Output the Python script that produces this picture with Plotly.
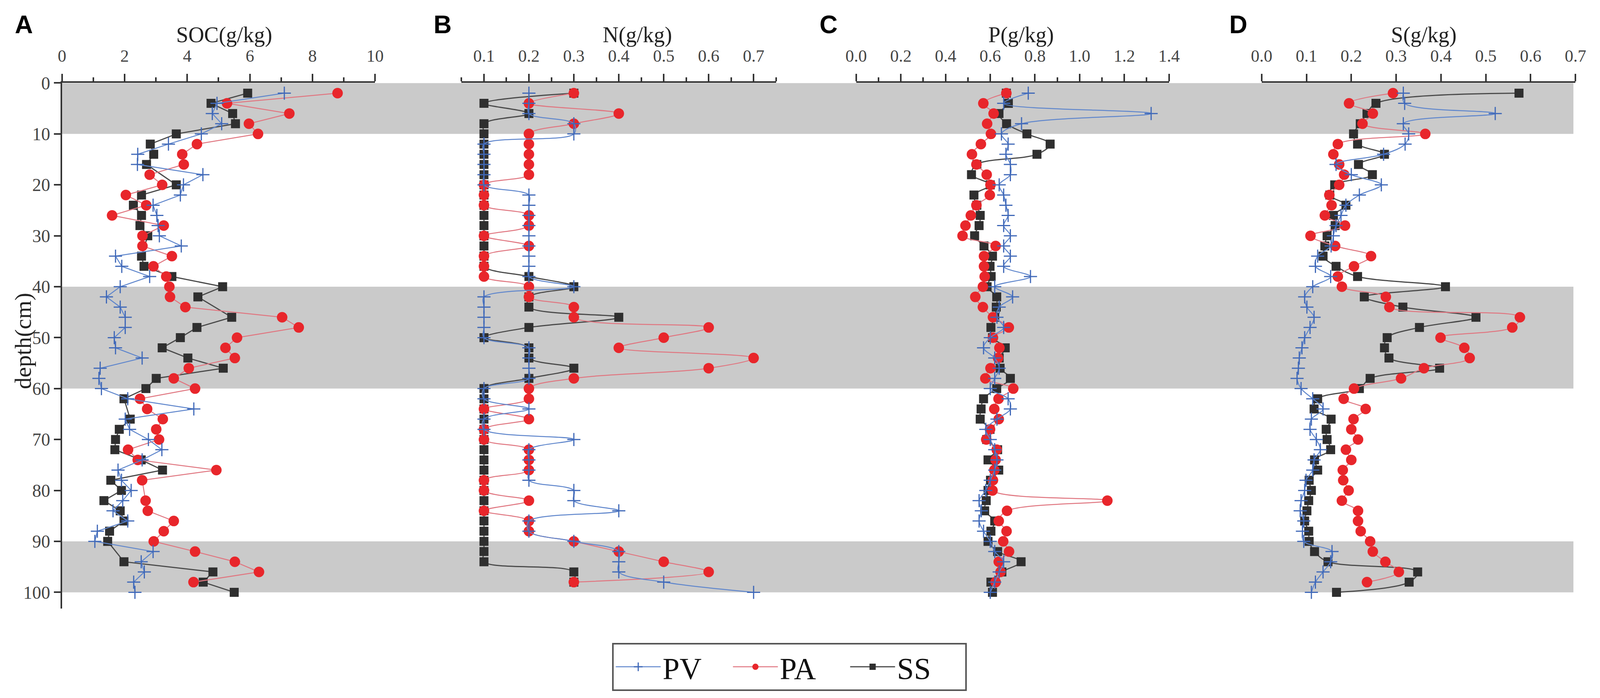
import plotly.graph_objects as go

# the page is 4096 css px wide with an 8 px body margin
W, H = 4080, 1771
REF_W = 4550
SX = 4096 / REF_W


def fx(px):
    # reference pixel column -> paper fraction
    return (px * SX - 8) / W


def fy(py):
    # reference pixel row -> paper fraction
    return 1 - (py - 8) / H


depth = list(range(2, 101, 2))

# Panel A - SOC (g/kg)
soc_pv = [7.10, 4.95, 4.80, 5.10, 4.45, 3.40, 2.42, 2.41, 4.50, 3.88,
          3.78, 2.91, 3.03, 3.07, 3.11, 3.81, 1.71, 1.91, 2.80, 1.86,
          1.42, 1.86, 2.02, 2.02, 1.67, 1.71, 2.56, 1.22, 1.18, 1.26,
          2.10, 4.21, 2.02, 2.16, 2.76, 3.19, 2.56, 1.79, 1.90, 2.21,
          1.94, 1.63, 2.10, 1.13, 1.05, 2.91, 2.53, 2.63, 2.29, 2.33]
soc_pa = [8.80, 5.27, 7.26, 5.97, 6.26, 4.31, 3.84, 3.89, 2.80, 3.20,
          2.04, 2.69, 1.60, 3.25, 2.57, 2.57, 3.51, 2.92, 3.33, 3.43,
          3.45, 3.94, 7.03, 7.56, 5.59, 5.22, 5.52, 4.05, 3.57, 4.25,
          2.49, 2.72, 3.22, 3.01, 3.10, 2.11, 2.42, 4.93, 2.56, None,
          2.67, 2.74, 3.57, 3.25, 2.93, 4.25, 5.52, 6.29, 4.20, None]
soc_ss = [5.93, 4.76, 5.45, 5.54, 3.65, 2.82, 2.93, 2.70, None, 3.65,
          2.54, 2.28, 2.54, 2.49, 2.74, None, 2.54, 2.62, 3.51, 5.13,
          4.34, None, 5.42, 4.31, 3.78, 3.20, 4.02, 5.15, 3.01, 2.68,
          1.98, None, 2.18, 1.83, 1.71, 1.69, 2.53, 3.21, 1.56, 1.90,
          1.34, 1.86, 1.98, 1.52, 1.46, None, 1.98, 4.82, 4.51, 5.50]

# Panel B - N (g/kg)
n_pv = [0.2, 0.2, 0.2, 0.3, 0.3, 0.1, 0.1, 0.1, 0.1, 0.1,
        0.2, 0.2, 0.2, 0.2, 0.2, 0.2, 0.2, 0.2, 0.2, 0.3,
        0.1, 0.1, 0.1, 0.1, 0.1, 0.2, 0.2, 0.2, 0.2, 0.1,
        0.1, 0.2, 0.1, 0.1, 0.3, 0.2, 0.2, 0.2, 0.2, 0.3,
        0.3, 0.4, 0.2, 0.2, 0.3, 0.4, 0.4, 0.4, 0.5, 0.7]
n_pa = [0.3, 0.2, 0.4, 0.3, 0.2, 0.2, 0.2, 0.2, 0.2, 0.1,
        0.1, 0.1, 0.2, 0.2, 0.1, 0.2, 0.1, 0.1, 0.1, 0.2,
        0.2, 0.3, 0.3, 0.6, 0.5, 0.4, 0.7, 0.6, 0.3, 0.2,
        0.2, 0.1, 0.2, 0.1, 0.1, 0.2, 0.2, 0.2, 0.1, 0.1,
        0.2, 0.1, 0.2, 0.2, 0.3, 0.4, 0.5, 0.6, 0.3, None]
n_ss = [0.3, 0.1, 0.2, 0.1, 0.1, 0.1, 0.1, 0.1, 0.1, 0.1,
        0.1, 0.1, 0.1, 0.1, 0.1, 0.1, 0.1, 0.1, 0.2, 0.3,
        0.2, 0.2, 0.4, 0.2, 0.1, 0.2, 0.2, 0.3, 0.2, 0.1,
        0.1, 0.1, 0.1, 0.1, 0.1, 0.1, 0.1, 0.1, 0.1, 0.1,
        0.1, 0.1, 0.1, 0.1, 0.1, 0.1, 0.1, 0.3, 0.3, None]

# Panel C - P (g/kg)
p_pv = [0.77, 0.66, 1.32, 0.74, 0.65, 0.68, 0.67, 0.69, 0.69, 0.64,
        0.66, 0.67, 0.68, 0.66, 0.69, 0.66, 0.69, 0.66, 0.78, 0.62,
        0.70, 0.64, 0.63, 0.66, 0.60, 0.57, 0.62, 0.64, 0.62, 0.60,
        0.68, 0.69, 0.63, 0.58, 0.60, 0.62, 0.63, 0.62, 0.60, 0.58,
        0.55, 0.56, 0.55, 0.57, 0.60, 0.62, 0.66, 0.64, 0.62, 0.60]
p_pa = [0.672, 0.569, 0.615, 0.586, 0.603, 0.558, 0.518, 0.538, 0.584, 0.601,
        0.598, 0.538, 0.513, 0.489, 0.476, 0.624, 0.572, 0.572, 0.575, 0.567,
        0.533, 0.567, 0.612, 0.683, 0.612, 0.641, 0.635, 0.601, 0.578, 0.703,
        0.637, 0.618, 0.638, 0.599, 0.582, 0.629, 0.624, 0.618, 0.612, 0.610,
        1.124, 0.675, 0.638, 0.673, 0.658, 0.684, 0.638, 0.646, 0.624, None]
p_ss = [0.672, 0.681, 0.639, 0.673, 0.764, 0.868, 0.809, 0.540, 0.516, 0.600,
        0.527, 0.540, 0.555, 0.550, 0.530, 0.572, 0.610, 0.599, 0.604, 0.586,
        0.629, 0.627, 0.620, 0.603, 0.610, 0.667, 0.640, 0.644, 0.690, 0.629,
        0.570, 0.559, 0.555, 0.599, 0.584, 0.633, 0.590, 0.638, 0.601, 0.590,
        0.582, 0.575, 0.620, 0.603, 0.590, 0.633, 0.738, 0.652, 0.603, 0.610]

# Panel D - S (g/kg)
s_pv = [0.316, 0.319, 0.521, 0.316, 0.328, 0.320, 0.272, 0.166, 0.200, 0.267,
        0.218, 0.188, 0.177, 0.166, 0.160, 0.155, 0.125, 0.120, 0.154, 0.114,
        0.096, 0.101, 0.117, 0.108, 0.096, 0.090, 0.084, 0.082, 0.079, 0.088,
        0.114, 0.137, 0.111, 0.108, 0.122, 0.131, 0.117, 0.114, 0.099, 0.096,
        0.088, 0.086, 0.094, 0.091, 0.094, 0.157, 0.154, 0.137, 0.120, 0.111]
s_pa = [0.293, 0.195, 0.248, 0.225, 0.365, 0.170, 0.160, 0.173, 0.184, 0.173,
        0.151, 0.156, 0.141, 0.186, 0.109, 0.164, 0.244, 0.206, 0.170, 0.179,
        0.277, 0.285, 0.576, 0.559, 0.399, 0.452, 0.464, 0.362, 0.311, 0.206,
        0.183, 0.232, 0.205, 0.200, 0.215, 0.188, 0.200, 0.181, 0.182, 0.194,
        0.179, 0.215, 0.215, 0.221, 0.242, 0.248, 0.276, 0.306, 0.235, None]
s_ss = [0.574, 0.255, 0.235, 0.220, 0.205, 0.214, 0.274, 0.216, 0.247, 0.163,
        0.152, 0.188, 0.160, 0.164, 0.146, 0.141, 0.137, 0.166, 0.214, 0.410,
        0.229, 0.315, 0.478, 0.352, 0.280, 0.274, 0.284, 0.397, 0.242, 0.218,
        0.125, 0.117, 0.155, 0.144, 0.146, 0.154, 0.118, 0.125, 0.106, 0.111,
        0.105, 0.101, 0.096, 0.105, 0.106, 0.118, 0.148, 0.348, 0.329, 0.167]

panel_letters = ["A", "B", "C", "D"]
panel_titles = ["SOC(g/kg)", "N(g/kg)", "P(g/kg)", "S(g/kg)"]
shaded_layers = [(0, 10), (40, 60), (90, 100)]

# pixel extents below are measured on the 4550 px wide reference
panels = [
    dict(pv=soc_pv, pa=soc_pa, ss=soc_ss, px=(147, 1050), rng=[0, 10],
         dtick=2, tick0=0, minor=1, fmt="d", shape="linear",
         letter_x=7, title_x=615),
    dict(pv=n_pv, pa=n_pa, ss=n_ss, px=(1299, 2206), rng=[0.05, 0.75],
         dtick=0.1, tick0=0.1, minor=0.05, fmt=".1f", shape="spline",
         letter_x=1216, title_x=1806),
    dict(pv=p_pv, pa=p_pa, ss=p_ss, px=(2437, 3339), rng=[0, 1.4],
         dtick=0.2, tick0=0, minor=0.1, fmt=".1f", shape="spline",
         letter_x=2329, title_x=2912),
    dict(pv=s_pv, pa=s_pa, ss=s_ss, px=(3606, 4511), rng=[0, 0.7],
         dtick=0.1, tick0=0, minor=None, fmt=".1f", shape="spline",
         letter_x=3511, title_x=4074),
]

y_dom = [fy(1555), fy(190)]

styles = {
    "SS": dict(line=dict(color="#4a4a4a", width=3),
               marker=dict(symbol="square", size=23, color="#2f2f2f")),
    "PA": dict(line=dict(color="#e07680", width=2.5),
               marker=dict(symbol="circle", size=27, color="#e8262b")),
    "PV": dict(line=dict(color="#5f86cc", width=2.5),
               marker=dict(symbol="cross-thin", size=24,
                           line=dict(color="#3f68b8", width=3))),
}

serif = "Liberation Serif"
axis_col = "#333333"

fig = go.Figure()

for i, p in enumerate(panels):
    sfx = "" if i == 0 else str(i + 1)
    for name, key in [("SS", "ss"), ("PA", "pa"), ("PV", "pv")]:
        st = styles[name]
        fig.add_trace(go.Scatter(
            x=p[key], y=depth, name=name, mode="lines+markers",
            line=dict(st["line"], shape=p["shape"], smoothing=1),
            marker=st["marker"], connectgaps=True,
            xaxis="x" + sfx, yaxis="y" + sfx,
            legendgroup=name, showlegend=(i == 0),
        ))

    xa = dict(
        domain=[fx(p["px"][0]), fx(p["px"][1])], range=p["rng"],
        side="top", anchor="y" + sfx, showgrid=False, zeroline=False,
        showline=True, linecolor=axis_col, linewidth=4,
        ticks="outside", ticklen=19, tickwidth=4, tickcolor=axis_col,
        tick0=p["tick0"], dtick=p["dtick"], tickformat=p["fmt"],
        tickfont=dict(family=serif, size=44, color="#444444"),
        ticklabelstandoff=14,
    )
    if p["minor"]:
        xa["minor"] = dict(dtick=p["minor"], tick0=p["tick0"], ticks="outside",
                           ticklen=10, tickwidth=4, tickcolor=axis_col,
                           showgrid=False)
    ya = dict(domain=y_dom, range=[103.2, 0], anchor="x" + sfx,
              showgrid=False, zeroline=False)
    if i == 0:
        ya.update(showline=True, linecolor=axis_col, linewidth=4,
                  ticks="outside", ticklen=17, tickwidth=4, tickcolor=axis_col,
                  tickvals=list(range(0, 101, 10)),
                  tickfont=dict(family=serif, size=46, color="#444444"))
    else:
        ya.update(visible=False)
    fig.layout["xaxis" + sfx] = xa
    fig.layout["yaxis" + sfx] = ya

    fig.add_annotation(x=max(fx(p["letter_x"]), 0), y=fy(38), xref="paper", yref="paper",
                       text=panel_letters[i], showarrow=False, xanchor="left",
                       yanchor="middle",
                       font=dict(family="Liberation Sans", size=64, color="black",
                                 weight="bold"))
    fig.add_annotation(x=fx(p["title_x"]), y=fy(65), xref="paper", yref="paper",
                       text=panel_titles[i], showarrow=False, xanchor="center",
                       yanchor="middle",
                       font=dict(family=serif, size=56, color="#222222"))

fig.add_annotation(x=fx(35), y=fy(860), xref="paper", yref="paper",
                   text="depth(cm)", textangle=-90, showarrow=False,
                   xanchor="center", yanchor="middle",
                   font=dict(family=serif, size=60, color="#222222"))

for y0, y1 in shaded_layers:
    fig.add_shape(type="rect", xref="paper", yref="y", x0=fx(147), x1=fx(4505),
                  y0=y0, y1=y1, fillcolor="#cacaca", line=dict(width=0),
                  layer="below")

fig.update_layout(
    width=W, height=H,
    margin=dict(l=0, r=0, t=0, b=0),
    paper_bgcolor="white", plot_bgcolor="rgba(0,0,0,0)",
    showlegend=True,
    legend=dict(orientation="h", x=fx(2245), xanchor="center",
                y=fy(1644), yanchor="top", traceorder="reversed",
                bordercolor="#555555", borderwidth=4, bgcolor="white",
                font=dict(family=serif, size=78, color="#111111"),
                entrywidth=170, itemwidth=115),
)

fig.write_html("out.html")
